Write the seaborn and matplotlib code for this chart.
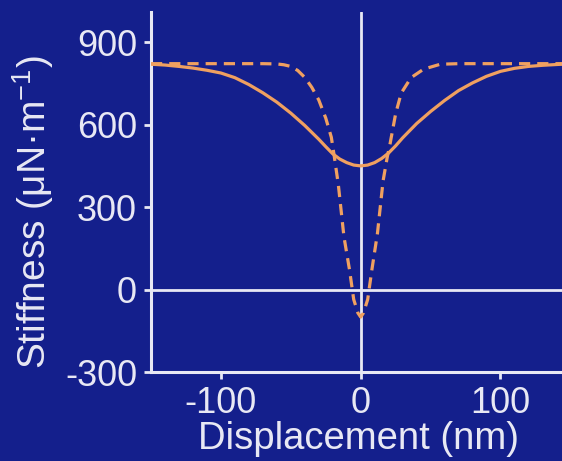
import pandas as pd
import numpy as np
from matplotlib import pyplot as plt
import seaborn as sns

# values
disp_solid = [-150, -140, -130, -120, -110, -100, -90, -80, -70, -60, -50, -40, -30, -25, -20, -15, -10, -5, 0,
              5, 10, 15, 20, 25, 30, 40, 50, 60, 70, 80, 90, 100, 110, 120, 130, 144]
stiff_solid = [820, 817, 812, 806, 798, 788, 771, 746, 716, 682, 642, 597, 547, 520, 494, 475, 462, 453, 450,
               453, 462, 477, 497, 523, 552, 604, 648, 688, 724, 752, 776, 794, 805, 812, 816, 820]

disp_dash = [-150, -120, -90, -70, -60, -55, -50, -45, -40, -35, -30, -25, -21, -19, -16, -12, -8, -5, -2, 0,
             2, 5, 8, 12, 16, 19, 21, 25, 29, 36, 45, 57, 70, 90, 120, 144]
stiff_dash = [822, 822, 822, 822, 821, 818, 812, 797, 772, 736, 690, 624, 554, 488, 382, 193, 72, -36, -85, -100,
              -85, -36, 72, 205, 395, 482, 530, 640, 715, 771, 802, 820, 822, 822, 822, 822]

xticks = [-100, 0, 100]
yticks = [-300, 0, 300, 600, 900]

bg = '#141f8c'
fg = '#e8e8f4'
orange = '#f0a060'

sns.set_style('ticks', {'axes.facecolor': bg, 'figure.facecolor': bg,
                        'axes.edgecolor': fg, 'xtick.color': fg, 'ytick.color': fg,
                        'text.color': fg, 'axes.labelcolor': fg})
plt.rcParams['font.family'] = ['Liberation Sans', 'DejaVu Sans']
plt.rcParams['mathtext.fontset'] = 'custom'
plt.rcParams['mathtext.rm'] = 'Liberation Sans'
plt.rcParams['axes.unicode_minus'] = False

df = pd.concat([
    pd.DataFrame({'x': disp_solid, 'y': stiff_solid, 'kind': 'solid'}),
    pd.DataFrame({'x': disp_dash, 'y': stiff_dash, 'kind': 'dashed'}),
])

fig = plt.figure(figsize=(5.62, 4.61), dpi=100)
ax = fig.add_axes([151 / 562, 1 - 372 / 461, 1 - 151 / 562, 360 / 461])

ax.axhline(0, color=fg, lw=2, zorder=1)
ax.axvline(0, color=fg, lw=2, zorder=1)

sns.lineplot(data=df, x='x', y='y', style='kind', ax=ax, color=orange, lw=2.3,
             dashes={'solid': '', 'dashed': (3.5, 2.2)}, legend=False, zorder=3, sort=False)

ax.set_xlim(-150, 144)
ax.set_ylim(-300, 1010)
ax.set_xticks(xticks)
ax.set_yticks(yticks)
ax.tick_params(labelsize=26, width=2, length=5, pad=5)
for s in ['top', 'right']:
    ax.spines[s].set_visible(False)
for s in ['left', 'bottom']:
    ax.spines[s].set_linewidth(2.2)

ax.set_xlabel('Displacement (nm)', fontsize=27.5)
ax.set_ylabel('Stiffness (μN·m$^{-1}$)', fontsize=28)
ax.xaxis.set_label_coords(0.504, -0.135)
ax.yaxis.set_label_coords(-0.232, 0.444)

fig.savefig('out.png', dpi=100, facecolor=bg)
